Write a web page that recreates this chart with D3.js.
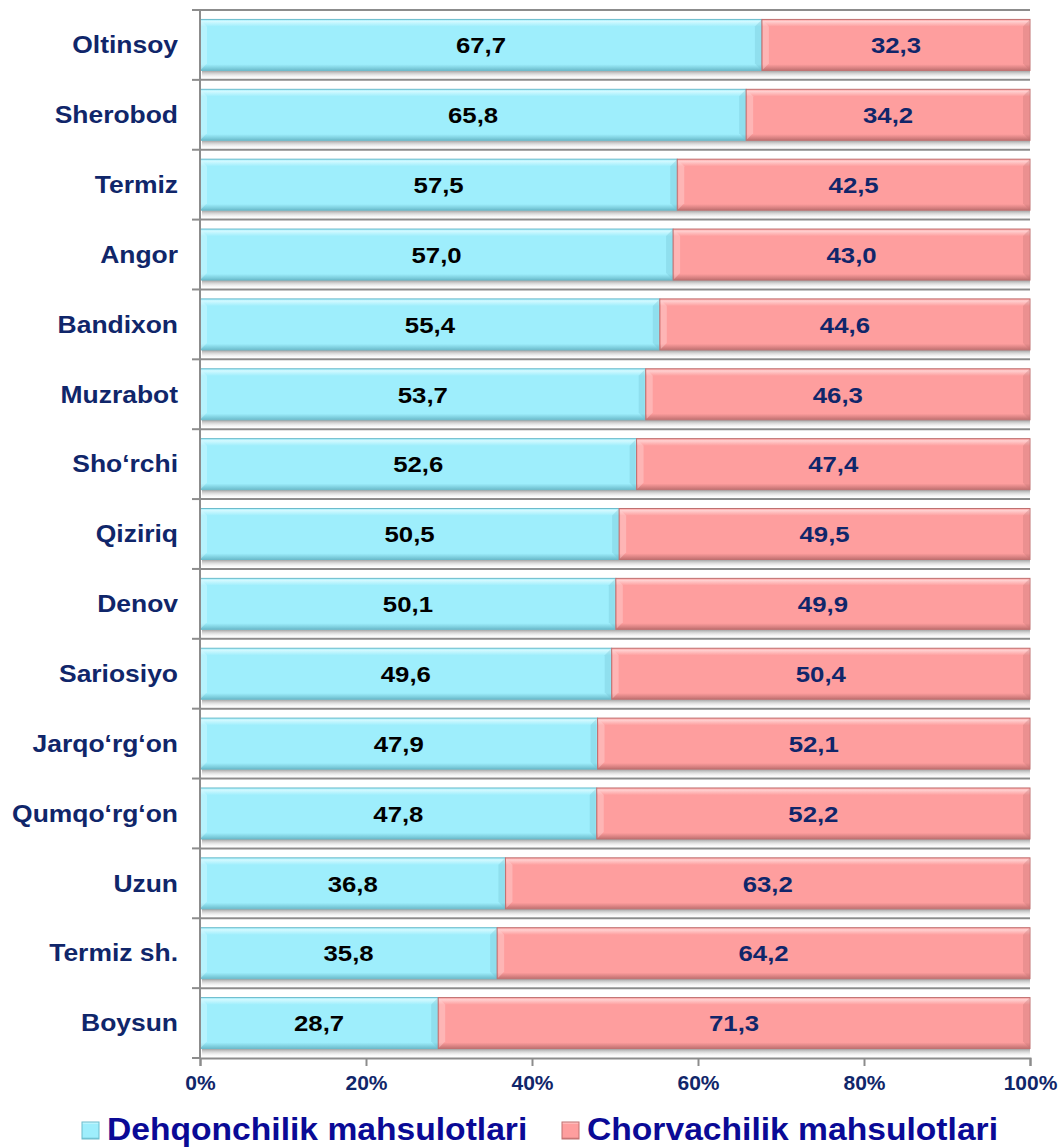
<!DOCTYPE html>
<html><head><meta charset="utf-8">
<script src="https://cdn.jsdelivr.net/npm/d3@7/dist/d3.min.js"></script>
<style>body{margin:0;background:#fff}svg{display:block}</style>
</head><body>
<script>
const categories = ["Oltinsoy","Sherobod","Termiz","Angor","Bandixon","Muzrabot","Sho‘rchi","Qiziriq","Denov","Sariosiyo","Jarqo‘rg‘on","Qumqo‘rg‘on","Uzun","Termiz sh.","Boysun"];
const dehqon = [67.7,65.8,57.5,57.0,55.4,53.7,52.6,50.5,50.1,49.6,47.9,47.8,36.8,35.8,28.7];
const chorva = [32.3,34.2,42.5,43.0,44.6,46.3,47.4,49.5,49.9,50.4,52.1,52.2,63.2,64.2,71.3];
const seriesNames = ["Dehqonchilik mahsulotlari","Chorvachilik mahsulotlari"];
const tickValues = [0,0.2,0.4,0.6,0.8,1];

const W=1059,H=1148;
const FONT="Liberation Sans, Arial, sans-serif";
const m={left:200,right:29,top:10,bottom:90};
const svg=d3.select("body").append("svg").attr("width",W).attr("height",H);
const defs=svg.append("defs");
const x=d3.scaleLinear().domain([0,1]).range([m.left,W-m.right]);
const y=d3.scaleBand().domain(categories).range([m.top,H-m.bottom]).paddingInner(0.27).paddingOuter(0.135);
const yOuter=d3.scaleBand().domain(categories).range([m.top,H-m.bottom]);

const colors=[{base:"#9eeefc",light:"#d2f9ff",dark:"#6cbccc",label:"#000000"},{base:"#fe9e9e",light:"#ffd0d0",dark:"#c07070",label:"#10266a"}];
colors.forEach((c,i)=>{
  const g=defs.append("linearGradient").attr("id","g"+i).attr("x1",0).attr("y1",0).attr("x2",0).attr("y2",1);
  g.append("stop").attr("offset","0").attr("stop-color",c.base);
  g.append("stop").attr("offset","0.04").attr("stop-color",c.light);
  g.append("stop").attr("offset","0.14").attr("stop-color",c.base);
  g.append("stop").attr("offset","0.88").attr("stop-color",c.base);
  g.append("stop").attr("offset","1").attr("stop-color",c.dark);
});
const sh=defs.append("linearGradient").attr("id","shadow").attr("x1",0).attr("y1",0).attr("x2",0).attr("y2",1);
sh.append("stop").attr("offset","0").attr("stop-color","#9a9a9a");
sh.append("stop").attr("offset","1").attr("stop-color","#ffffff").attr("stop-opacity",0);

function stext(sel,px,py,sx){ return sel.attr("transform",`translate(${px},${py}) scale(${sx},1)`); }

const bounds=categories.map(c=>yOuter(c));
svg.append("g").selectAll("line").data(bounds).join("line")
 .attr("x1",m.left).attr("x2",x(1)).attr("y1",d=>d).attr("y2",d=>d)
 .attr("stroke","#8c8c8c").attr("stroke-width",2);

const rows=categories.map((c,i)=>({c,v:[dehqon[i],chorva[i]]}));
const rowG=svg.append("g").selectAll("g").data(rows).join("g");
rowG.append("rect").attr("x",x(0)+2).attr("width",x(1)-x(0)-2)
 .attr("y",d=>y(d.c)+y.bandwidth()).attr("height",9).attr("fill","url(#shadow)");
rows.forEach(r=>{
  let acc=0;
  const g=rowG.filter(d=>d===r);
  r.v.forEach((v,i)=>{
    const x0=x(acc/100),x1=x((acc+v)/100); acc+=v;
    const y0=y(r.c),h=y.bandwidth(),c=colors[i];
    g.append("rect").attr("x",x0).attr("y",y0).attr("width",x1-x0).attr("height",h)
     .attr("fill","url(#g"+i+")").attr("stroke",c.dark).attr("stroke-width",1);
    const b=7;
    g.append("path").attr("d",`M${x0+1},${y0+1}L${x0+b},${y0+b}L${x0+b},${y0+h-b}L${x0+1},${y0+h-1}Z`)
     .attr("fill",c.light).attr("opacity",0.45);
    g.append("path").attr("d",`M${x1-1},${y0+1}L${x1-b},${y0+b}L${x1-b},${y0+h-b}L${x1-1},${y0+h-1}Z`)
     .attr("fill",c.dark).attr("opacity",0.3);
    stext(g.append("text"),(x0+x1)/2,y0+h/2,1.12).attr("dy","0.36em")
     .attr("text-anchor","middle").attr("font-family",FONT)
     .attr("font-weight","bold").attr("font-size",23).attr("fill",c.label)
     .text(v.toFixed(1).replace(".",","));
  });
});

const xAxis=svg.append("g").attr("transform",`translate(0,${H-m.bottom})`)
 .call(d3.axisBottom(x).tickValues(tickValues).tickFormat(d3.format(".0%")).tickSize(8).tickPadding(10));
xAxis.select(".domain").attr("stroke","#8c8c8c").attr("stroke-width",2);
xAxis.selectAll(".tick line").attr("stroke","#8c8c8c").attr("stroke-width",2);
xAxis.selectAll(".tick text").attr("font-family",FONT).attr("font-weight","bold")
 .attr("font-size",20).attr("fill","#10266a").attr("y",0).attr("dy",0)
 .attr("transform","translate(0,32) scale(1.05,1)");

const yAxisG=svg.append("g");
yAxisG.append("line").attr("x1",m.left).attr("x2",m.left).attr("y1",m.top).attr("y2",H-m.bottom)
 .attr("stroke","#8c8c8c").attr("stroke-width",2);
yAxisG.selectAll("line.t").data(bounds.concat([H-m.bottom])).join("line").attr("class","t")
 .attr("x1",m.left-8).attr("x2",m.left).attr("y1",d=>d).attr("y2",d=>d)
 .attr("stroke","#8c8c8c").attr("stroke-width",2);
yAxisG.selectAll("text").data(categories).join("text")
 .attr("transform",d=>`translate(178,${y(d)+y.bandwidth()/2}) scale(1.15,1)`)
 .attr("dy","0.36em").attr("text-anchor","end")
 .attr("font-family",FONT).attr("font-weight","bold").attr("font-size",23)
 .attr("fill","#10266a").text(d=>d);

const leg=svg.append("g");
const legX=[82,562];
seriesNames.forEach((n,i)=>{
  const c=colors[i];
  leg.append("rect").attr("x",legX[i]).attr("y",1122).attr("width",17).attr("height",17)
   .attr("fill","url(#g"+i+")").attr("stroke",c.dark);
  stext(leg.append("text"),legX[i]+25,1140,1.085)
   .attr("font-family",FONT).attr("font-weight","bold").attr("font-size",31)
   .attr("fill","#0a0a96").text(n);
});
</script>
</body></html>
